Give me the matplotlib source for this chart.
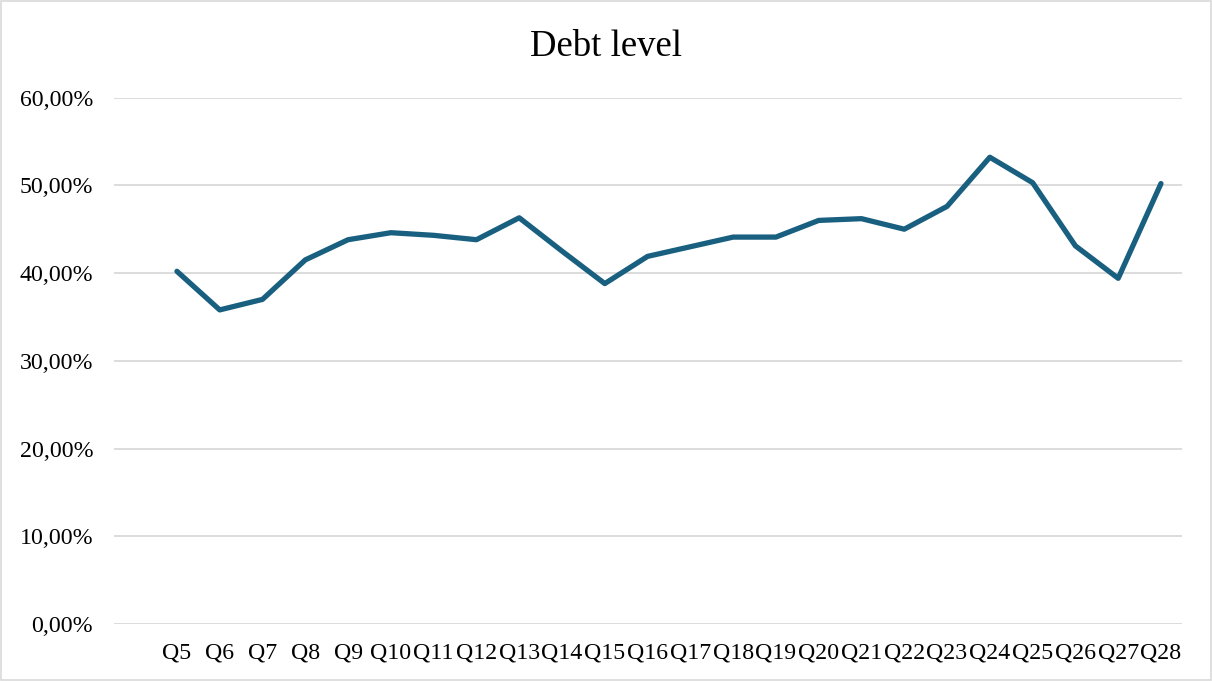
import matplotlib
matplotlib.use("Agg")
import matplotlib.pyplot as plt
from matplotlib.ticker import FuncFormatter
from matplotlib.patches import Rectangle

categories = ["Q5", "Q6", "Q7", "Q8", "Q9", "Q10", "Q11", "Q12", "Q13", "Q14", "Q15", "Q16",
              "Q17", "Q18", "Q19", "Q20", "Q21", "Q22", "Q23", "Q24", "Q25", "Q26", "Q27", "Q28"]
debt_level = [40.2, 35.8, 37.0, 41.5, 43.8, 44.6, 44.3, 43.8, 46.3, 42.5, 38.8, 41.9,
              43.0, 44.1, 44.1, 46.0, 46.2, 45.0, 47.6, 53.2, 50.3, 43.1, 39.4, 50.2]
y_ticks = [0, 10, 20, 30, 40, 50, 60]
title = "Debt level"

plt.rcParams['font.family'] = ['Liberation Serif', 'DejaVu Serif']

fig = plt.figure(figsize=(12.12, 6.81), dpi=100)
ax = fig.add_axes([0.0941, 0.0837, 0.9752 - 0.0941, 0.8567 - 0.0837])

x = list(range(len(categories)))
ax.plot(x, debt_level, color='#195f80', linewidth=3.8, solid_joinstyle='round',
        solid_capstyle='round', zorder=3)

ax.set_ylim(0, 60)
ax.set_yticks(y_ticks)
ax.yaxis.set_major_formatter(FuncFormatter(lambda v, p: f"{v:.2f}%".replace('.', ',')))
ax.set_xlim(-1.47, len(categories) - 0.51)
ax.set_xticks(x)
ax.set_xticklabels(categories)

ax.grid(axis='y', color='#d9d9d9', linewidth=1.3, zorder=0)
ax.set_axisbelow(True)
for s in ax.spines.values():
    s.set_visible(False)
ax.tick_params(axis='both', length=0, labelsize=17.2, colors='#000000')
ax.tick_params(axis='y', pad=15)
ax.tick_params(axis='x', pad=13)

fig.text(0.5, 0.932, title, ha='center', va='center', fontsize=26.5, color='#000000')

fig.patches.append(Rectangle((0.0008, 0.0008), 0.9984, 0.9984, transform=fig.transFigure,
                             fill=False, edgecolor='#d9d9d9', linewidth=1.2))

fig.savefig("out.png", dpi=100)
